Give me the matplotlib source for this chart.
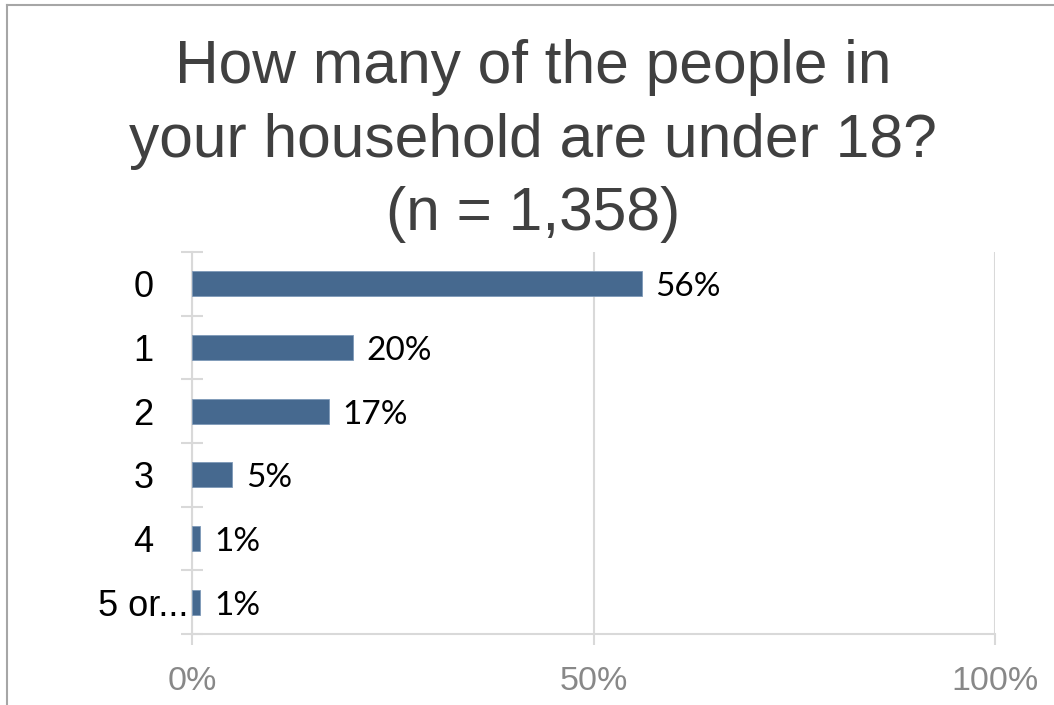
import matplotlib.pyplot as plt
from matplotlib.lines import Line2D

# respuestas a la pregunta y porcentaje de cada una
categorias = ["0", "1", "2", "3", "4", "5 or..."]
porcentajes = [56, 20, 17, 5, 1, 1]
marcas_x = [0, 50, 100]
etiquetas_x = ["0%", "50%", "100%"]
titulo = ["How many of the people in",
          "your household are under 18?",
          "(n = 1,358)"]

W, H = 1054, 705
gris = "#d9d9d9"

fig = plt.figure(figsize=(W / 100, H / 100), dpi=100)
# area del grafico en pixeles: x 192..995, y 252..634 (desde arriba)
ax = fig.add_axes([192 / W, 1 - 634 / H, 803 / W, 382 / H])

pos = list(range(len(categorias)))
ax.barh(pos, porcentajes, height=0.39, color="#46698f",
        edgecolor="#7e99b8", linewidth=0.6, zorder=3)

ax.set_xlim(0, 100)
ax.set_ylim(len(categorias) - 0.5, -0.5)

# lineas de division verticales
ax.set_xticks(marcas_x)
ax.set_xticklabels(etiquetas_x, fontfamily="Liberation Sans", fontsize=24.5, color="#888888")
ax.xaxis.grid(True, color=gris, linewidth=1.5, zorder=0)
ax.tick_params(axis="x", direction="out", length=8, width=1.5, color=gris, pad=15)

# etiquetas de categoria centradas a la izquierda
ax.set_yticks(pos)
ax.set_yticklabels(categorias, fontfamily="Liberation Sans", fontsize=26, color="black")
for lbl in ax.get_yticklabels():
    lbl.set_horizontalalignment("center")
ax.tick_params(axis="y", which="major", length=0, pad=35)
ax.set_yticks([p - 0.5 for p in pos] + [len(pos) - 0.5], minor=True)
ax.tick_params(axis="y", which="minor", direction="inout", length=16, width=1.5, color=gris)

for lado in ["top", "right"]:
    ax.spines[lado].set_visible(False)
for lado in ["left", "bottom"]:
    ax.spines[lado].set_color(gris)
    ax.spines[lado].set_linewidth(1.5)

# etiquetas de datos
for i, v in enumerate(porcentajes):
    ax.annotate(f"{v}%", xy=(v, i), xytext=(10, -9), textcoords="offset points",
                ha="left", va="baseline", fontfamily="Lato", fontsize=24, color="black")

# titulo en tres lineas
for linea, base in zip(titulo, [83, 157, 230]):
    fig.text(533 / W, 1 - base / H, linea, ha="center", va="baseline",
             fontfamily="Liberation Sans", fontsize=43.6, color="#404040")

# borde del grafico
fig.add_artist(Line2D([7 / W, 7 / W], [0, 1 - 5 / H], color="#a6a6a6", linewidth=1.5))
fig.add_artist(Line2D([7 / W, 1], [1 - 5 / H, 1 - 5 / H], color="#a6a6a6", linewidth=1.5))

fig.savefig("out.png", dpi=100)
